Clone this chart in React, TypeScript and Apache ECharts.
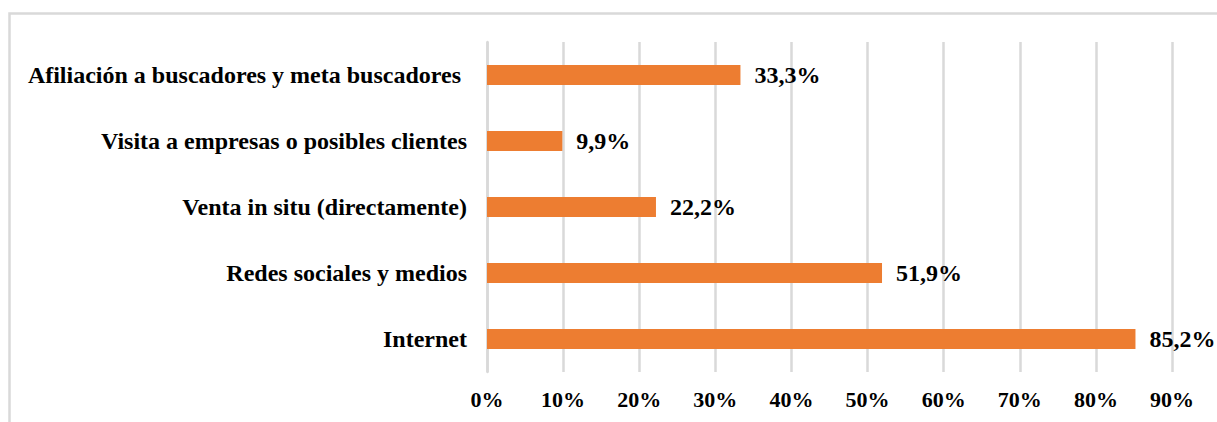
import React, { useEffect, useRef } from "react";
import * as echarts from "echarts";

const categories = [
  "Internet",
  "Redes sociales y medios",
  "Venta in situ (directamente)",
  "Visita a empresas o posibles clientes",
  "Afiliación a buscadores y meta buscadores ",
];
const values = [85.2, 51.9, 22.2, 9.9, 33.3];
const xTicks = [0, 10, 20, 30, 40, 50, 60, 70, 80, 90];

const FONT = "'Liberation Serif', 'Times New Roman', serif";

export default function App() {
  const ref = useRef<HTMLDivElement>(null);
  useEffect(() => {
    const chart = echarts.init(ref.current!, null, { renderer: "svg" });
    chart.setOption({
      animation: false,
      backgroundColor: "#ffffff",
      graphic: [
        {
          type: "rect",
          shape: { x: 9.5, y: 13.5, width: 1300, height: 500 },
          style: { fill: "none", stroke: "#d9d9d9", lineWidth: 2.5 },
          silent: true,
        },
      ],
      grid: { left: 487, right: 45, top: 42, bottom: 50, containLabel: false },
      xAxis: {
        type: "value",
        min: xTicks[0],
        max: xTicks[xTicks.length - 1],
        interval: 10,
        axisLine: { show: false },
        axisTick: { show: false },
        splitLine: { show: true, lineStyle: { color: "#d9d9d9", width: 2.5 } },
        axisLabel: {
          margin: 16,
          fontFamily: FONT,
          fontWeight: "bold",
          fontSize: 22,
          color: "#000",
          formatter: (v: number) => `${v}%`,
        },
      },
      yAxis: {
        type: "category",
        data: categories,
        axisLine: { show: true, lineStyle: { color: "#d9d9d9", width: 2.5 } },
        axisTick: { show: false },
        axisLabel: {
          margin: 20,
          fontFamily: FONT,
          fontWeight: "bold",
          fontSize: 24,
          color: "#000",
        },
      },
      series: [
        {
          type: "bar",
          data: values,
          barWidth: 20,
          itemStyle: { color: "#ED7D31" },
          label: {
            show: true,
            position: "right",
            distance: 14,
            fontFamily: FONT,
            fontWeight: "bold",
            fontSize: 24,
            color: "#000",
            formatter: (p: any) => `${p.value.toFixed(1).replace(".", ",")}%`,
          },
        },
      ],
    });
    return () => chart.dispose();
  }, []);
  return (
    <div
      ref={ref}
      style={{ position: "absolute", left: 0, top: 0, width: 1217, height: 422 }}
    />
  );
}
